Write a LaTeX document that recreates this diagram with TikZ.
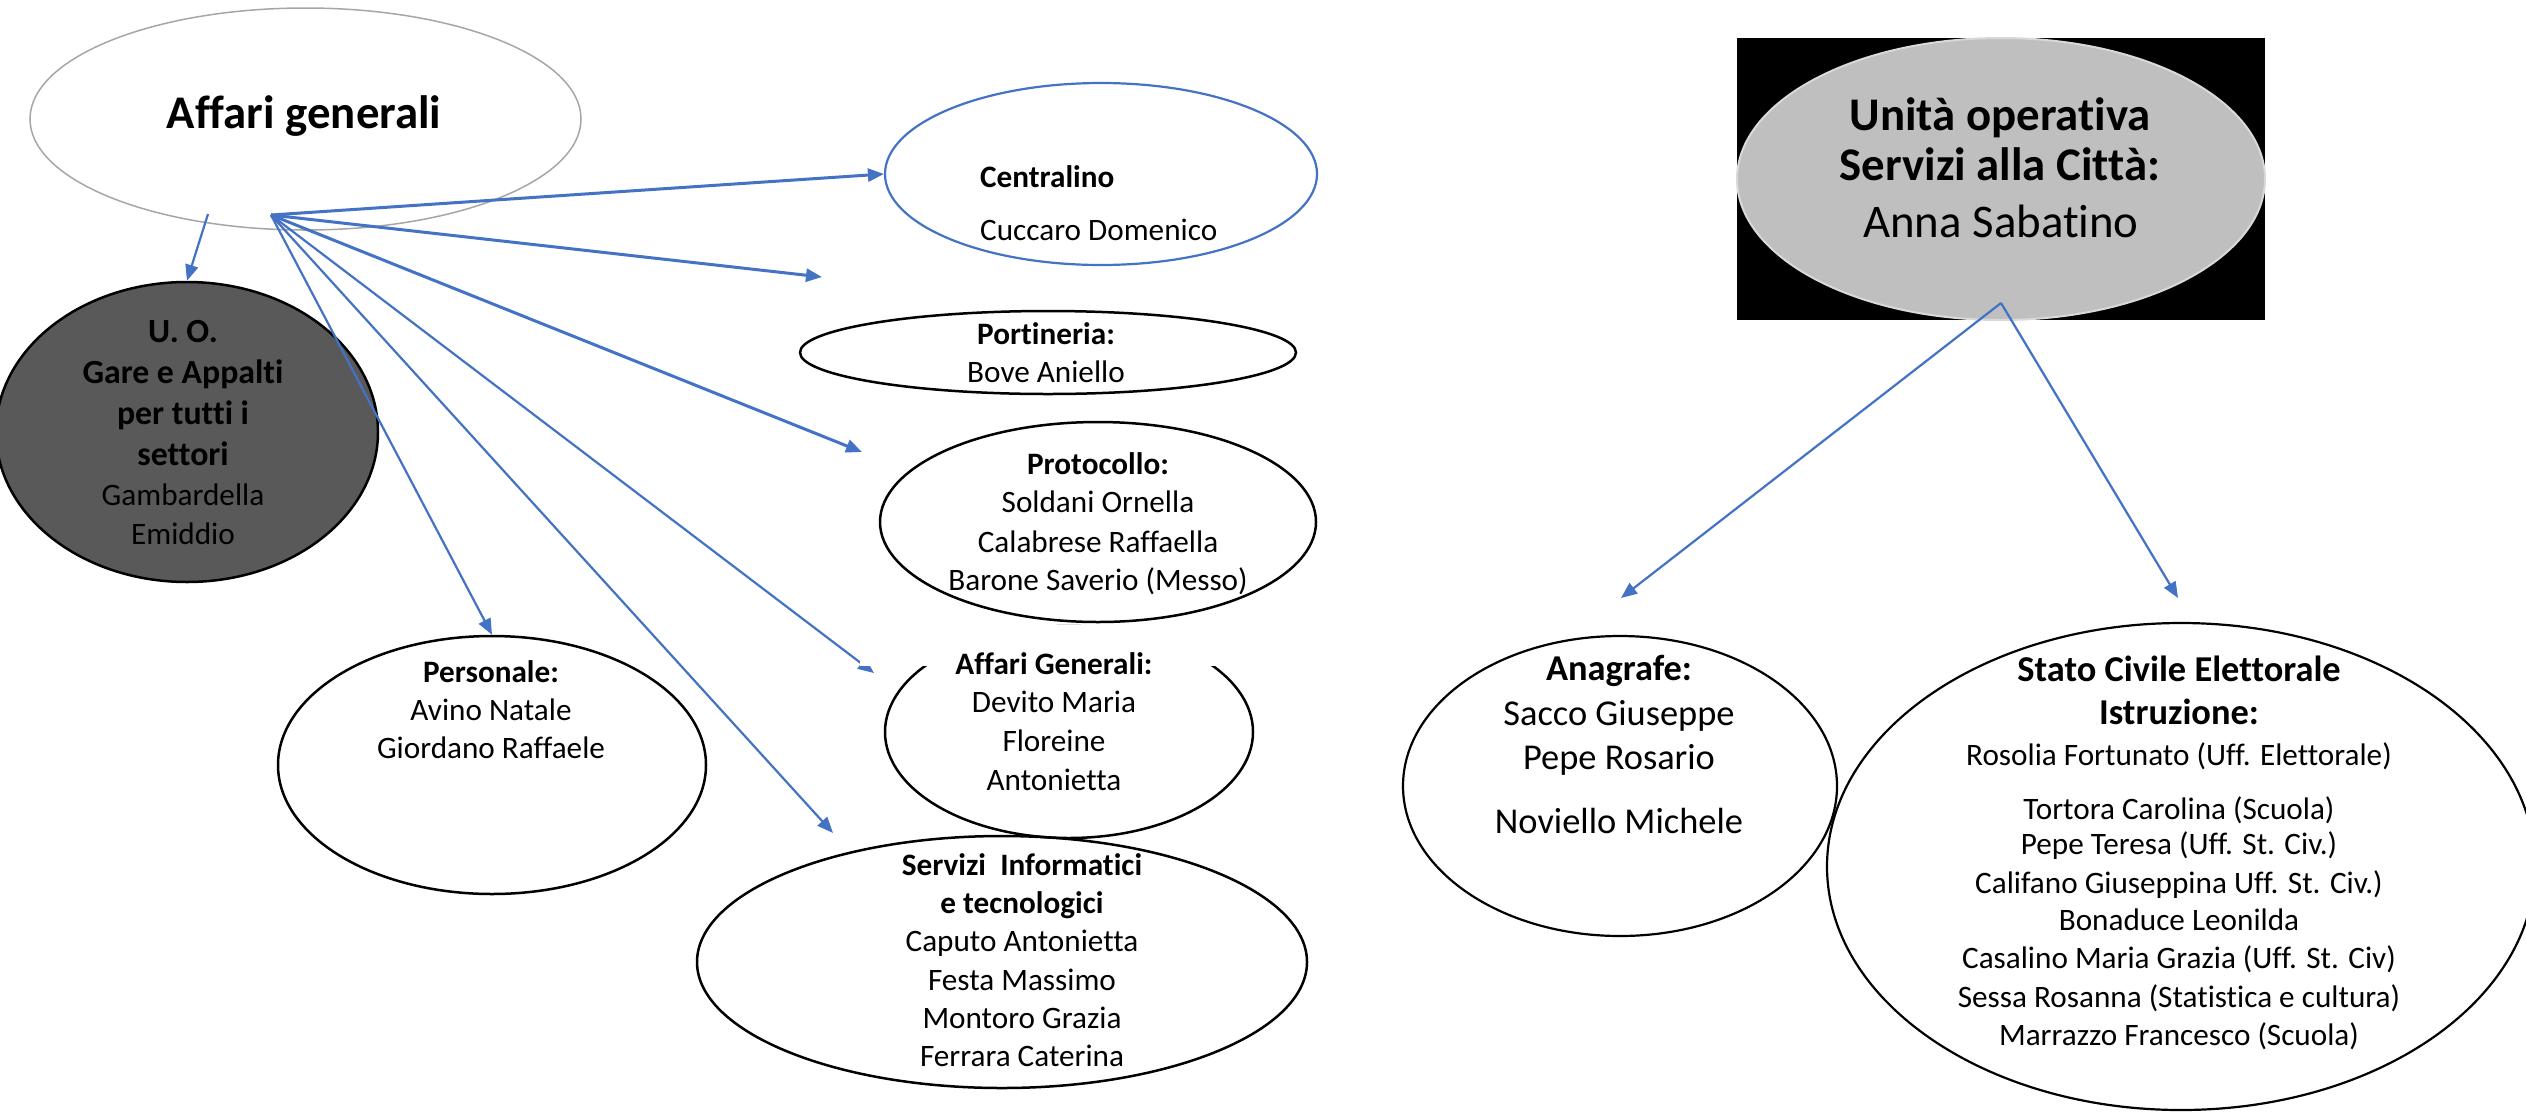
\documentclass[tikz,border=0pt]{standalone}
\usepackage{fontspec}
\setmainfont{Carlito}[Ligatures=NoCommon]
\usetikzlibrary{shapes.geometric,arrows.meta}
\definecolor{oblue}{HTML}{4472C4}
\definecolor{ugrey}{HTML}{595959}
\definecolor{lgrey}{HTML}{BFBFBF}
\definecolor{egrey}{HTML}{A6A6A6}
\newcommand\szA{\fontsize{31.2}{38}\selectfont}
\newcommand\szB{\fontsize{33.8}{41}\selectfont}
\newcommand\szC{\fontsize{36.4}{44}\selectfont}
\newcommand\szD{\fontsize{46.8}{57}\selectfont}
\begin{document}
\begin{tikzpicture}[x=1pt,y=-1pt,
  oval/.style={ellipse, draw=black, line width=2.5pt, inner sep=0pt},
  conn/.style={draw=oblue, line width=2.2pt, -{Triangle[length=16pt,width=13pt]}},
  heavyconn/.style={conn, line width=3pt},
  lab/.style={anchor=base, inner sep=0pt, font=\szA},
  labb/.style={anchor=base, inner sep=0pt, font=\bfseries\szA},
  labw/.style={anchor=base west, inner sep=0pt, font=\szA},
  labbw/.style={anchor=base west, inner sep=0pt, font=\bfseries\szA}]
\useasboundingbox (0,0) rectangle (2526,1112);
\fill[white] (0,0) rectangle (2526,1112);

% ---- ellipses ----
\node[ellipse, draw=egrey, line width=1.5pt, inner sep=0pt, minimum width=551pt, minimum height=222pt] (ag) at (305.5,119) {};
\node[oval, fill=ugrey, minimum width=382pt, minimum height=300pt] (uo) at (187,432) {};
\node[ellipse, draw=oblue, line width=2.2pt, inner sep=0pt, minimum width=432pt, minimum height=182pt] (cent) at (1101,174) {};
\node[oval, minimum width=496pt, minimum height=83pt] (port) at (1048,352.5) {};
\node[oval, minimum width=436pt, minimum height=200pt] (prot) at (1098,522) {};
\node[oval, minimum width=428pt, minimum height=258pt] (pers) at (492,765) {};
\node[oval, minimum width=368pt, minimum height=212pt] (agen) at (1069,732) {};
\node[oval, minimum width=610pt, minimum height=252pt] (serv) at (1002,962) {};
\node[rectangle, fill=black, inner sep=0pt, minimum width=528pt, minimum height=282pt] (unibg) at (2001,179) {};
\node[ellipse, fill=lgrey, draw=lgrey!60!white, line width=2pt, inner sep=0pt, minimum width=528pt, minimum height=282pt] (uni) at (2001,179) {};
\node[oval, line width=2.2pt, minimum width=434pt, minimum height=300pt] (anag) at (1620,786) {};
\node[oval, line width=2.2pt, minimum width=708pt, minimum height=487pt] (stato) at (2181,866.5) {};

% ---- connectors ----
\coordinate (o0) at (208,214);
\coordinate (o1) at (271,215);
\coordinate (tport) at (822,277);
\coordinate (tprot) at (862,452);
\coordinate (tagen) at (874,673);
\coordinate (tserv) at (833,833);
\coordinate (o2) at (2001,303);
\coordinate (tanag) at (1621,598);
\coordinate (tstato) at (2178,598);
\draw[conn] (o0) -- (uo.north);
\draw[heavyconn] (o1) -- (cent.west);
\draw[heavyconn] (o1) -- (tport);
\draw[heavyconn] (o1) -- (tprot);
\draw[conn] (o1) -- (pers.north);
\draw[conn] (o1) -- (tagen);
\draw[conn] (o1) -- (tserv);
\draw[conn] (o2) -- (tanag);
\draw[conn] (o2) -- (tstato);

% white area behind the "Affari Generali:" heading
\fill[white] (860,624.5) rectangle (1216,666);

% ---- texts ----
\node[labb, font=\bfseries\szD] (t-ag) at (304,128) {Affari generali};

\node[labb, font=\bfseries\szB] (t-uo1) at (183,342) {U. O.};
\node[labb, font=\bfseries\szB] (t-uo2) at (183,383) {Gare e Appalti};
\node[labb, font=\bfseries\szB] (t-uo3) at (183,424) {per tutti i};
\node[labb, font=\bfseries\szB] (t-uo4) at (183,465) {settori};
\node[lab] (t-uo5) at (183,505) {Gambardella};
\node[lab] (t-uo6) at (183,544) {Emiddio};

\node[labbw] (t-ce1) at (980,187) {Centralino};
\node[labw] (t-ce2) at (980,240) {Cuccaro Domenico};

\node[labb] (t-po1) at (1046,344) {Portineria:};
\node[lab] (t-po2) at (1046,382) {Bove Aniello};

\node[labb] (t-pr1) at (1098,474) {Protocollo:};
\node[lab] (t-pr2) at (1098,512.5) {Soldani Ornella};
\node[lab] (t-pr3) at (1098,552) {Calabrese Raffaella};
\node[lab] (t-pr4) at (1098,590) {Barone Saverio (Messo)};

\node[labb] (t-pe1) at (491,682.5) {Personale:};
\node[lab] (t-pe2) at (491,720) {Avino Natale};
\node[lab] (t-pe3) at (491,758) {Giordano Raffaele};

\node[labb] (t-ge1) at (1054,674) {Affari Generali:};
\node[lab] (t-ge2) at (1054,712) {Devito Maria};
\node[lab] (t-ge3) at (1054,751) {Floreine};
\node[lab] (t-ge4) at (1054,790) {Antonietta};

\node[labb] (t-se1) at (1022,875) {Servizi\ \ Informatici};
\node[labb] (t-se2) at (1022,913) {e tecnologici};
\node[lab] (t-se3) at (1022,951) {Caputo Antonietta};
\node[lab] (t-se4) at (1022,990) {Festa Massimo};
\node[lab] (t-se5) at (1022,1028) {Montoro Grazia};
\node[lab] (t-se6) at (1022,1066) {Ferrara Caterina};

\node[labb, font=\bfseries\szD] (t-un1) at (2000,130) {Unità operativa};
\node[labb, font=\bfseries\szD] (t-un2) at (2000,180) {Servizi alla Città:};
\node[lab, font=\szD] (t-un3) at (2001,237) {Anna Sabatino};

\node[labb, font=\bfseries\szC] (t-an1) at (1619,680) {Anagrafe:};
\node[lab, font=\szC] (t-an2) at (1619,725) {Sacco Giuseppe};
\node[lab, font=\szC] (t-an3) at (1619,769.5) {Pepe Rosario};
\node[lab, font=\szC] (t-an4) at (1619,833) {Noviello Michele};

\node[labb, font=\bfseries\szC] (t-st1) at (2179,681) {Stato Civile Elettorale};
\node[labb, font=\bfseries\szC] (t-st2) at (2179,724) {Istruzione:};
\node[lab] (t-st3) at (2179,765) {Rosolia Fortunato (Uff. Elettorale)};
\node[lab] (t-st4) at (2179,819) {Tortora Carolina (Scuola)};
\node[lab] (t-st5) at (2179,854) {Pepe Teresa (Uff. St. Civ.)};
\node[lab] (t-st6) at (2179,893) {Califano Giuseppina Uff. St. Civ.)};
\node[lab] (t-st7) at (2179,930) {Bonaduce Leonilda};
\node[lab] (t-st8) at (2179,968) {Casalino Maria Grazia (Uff. St. Civ)};
\node[lab] (t-st9) at (2179,1007) {Sessa Rosanna (Statistica e cultura)};
\node[lab] (t-st10) at (2179,1045) {Marrazzo Francesco (Scuola)};
\end{tikzpicture}
\end{document}
